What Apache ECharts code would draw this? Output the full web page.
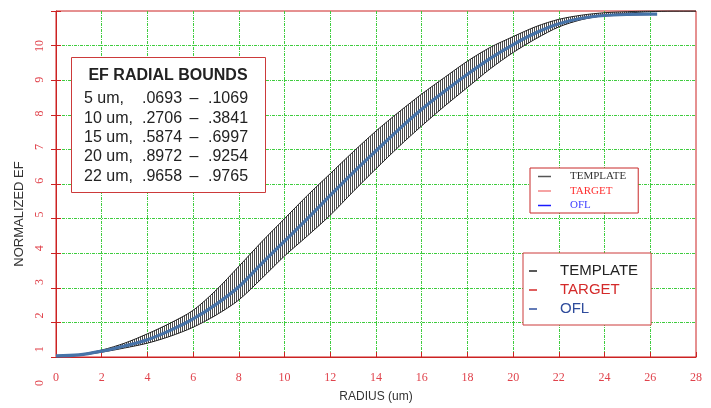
<!DOCTYPE html>
<html>
<head>
<meta charset="utf-8">
<script src="https://cdn.jsdelivr.net/npm/echarts@6/dist/echarts.min.js"></script>
<style>html,body{margin:0;padding:0;background:#fff}#c{width:711px;height:408px}</style>
</head>
<body>
<div id="c"></div>
<script>
// ---- data ----
const templateRadius = [0,1,2,3,4,5,6,7,8,9,10,11,12,13,14,15,16,17,18,19,20,21,22,23,24,25,26,27,28];
const templateUpper  = [0.02,0.07,0.2,0.4,0.67,0.98,1.35,1.93,2.62,3.33,4.0,4.67,5.3,5.93,6.53,7.08,7.6,8.08,8.55,8.95,9.26,9.55,9.76,9.88,9.95,9.98,10,10,10];
const templateLower  = [0,0.05,0.14,0.26,0.4,0.6,0.86,1.21,1.65,2.27,2.92,3.5,4.1,4.78,5.44,6.08,6.68,7.25,7.79,8.33,8.8,9.2,9.54,9.75,9.87,9.94,9.98,10,10];
const oflRadius      = [0,1,2,3,4,5,6,7,8,9,10,11,12,13,14,15,16,17,18,19,20,21,22,23,24,25,26,26.3];
const oflValues      = [0.03,0.06,0.17,0.32,0.5,0.77,1.1,1.52,2.03,2.7,3.35,4.0,4.67,5.33,5.96,6.58,7.16,7.68,8.17,8.63,9.03,9.37,9.63,9.79,9.87,9.9,9.91,9.91];
const targetRadius   = [0,1,2,3,4,5,6,7,8,9,10,11,12,13,14,15,16,17,18,19,20,21,22,23,24,25,26];
const targetValues   = [0.03,0.06,0.17,0.32,0.5,0.77,1.1,1.52,2.03,2.7,3.35,4.0,4.67,5.33,5.96,6.58,7.16,7.68,8.17,8.63,9.03,9.37,9.63,9.79,9.87,9.9,9.91];
const yTickLabels    = ['0','1','2','3','4','5','6','7','8','9','10'];
const seriesNames    = ['TEMPLATE','TARGET','OFL'];
const boxTitle       = 'EF RADIAL BOUNDS';
const boundRadii     = ['5 um,','10 um,','15 um,','20 um,','22 um,'];
const boundLow       = ['.0693','.2706','.5874','.8972','.9658'];
const boundHigh      = ['.1069','.3841','.6997','.9254','.9765'];

// ---- helpers ----
const zip = (xs, ys) => xs.map((x, i) => [x, ys[i]]);

const hatch = document.createElement('canvas');
hatch.width = 2; hatch.height = 4;
const hc = hatch.getContext('2d');
hc.fillStyle = '#ffffff'; hc.fillRect(0, 0, 2, 4);
hc.fillStyle = '#4a4a4a'; hc.fillRect(0, 0, 1, 4);

const RED = '#cc2222';
const RED_LABEL = '#e0434c';
const GREEN = '#3fcc3f';
const GRID_DASH = [3,1,1,1];
const SANS = '"Liberation Sans", Arial, sans-serif';
const SERIF = '"Liberation Serif", "Times New Roman", serif';

const chart = echarts.init(document.getElementById('c'));

const rowY = [99, 119, 138, 157, 177];
const boxGraphics = [
  {type:'rect', z:100, shape:{x:71.5, y:57.5, width:194, height:135}, style:{fill:'#fff', stroke:'#cc3a3a', lineWidth:1}},
  {type:'text', z:101, x:168, y:76, style:{text:boxTitle, fill:'#222', font:'bold 16px ' + SANS, align:'center', verticalAlign:'middle', textAlign:'center', textVerticalAlign:'middle'}}
];
boundRadii.forEach((r, i) => {
  boxGraphics.push({type:'text', z:101, x:84, y:rowY[i], style:{text:r, fill:'#222', font:'16px ' + SANS, align:'left', verticalAlign:'middle', textAlign:'left', textVerticalAlign:'middle'}});
  boxGraphics.push({type:'text', z:101, x:142, y:rowY[i], style:{text:boundLow[i], fill:'#222', font:'16px ' + SANS, align:'left', verticalAlign:'middle', textAlign:'left', textVerticalAlign:'middle'}});
  boxGraphics.push({type:'text', z:101, x:194, y:rowY[i], style:{text:'\u2013', fill:'#222', font:'16px ' + SANS, align:'center', verticalAlign:'middle', textAlign:'center', textVerticalAlign:'middle'}});
  boxGraphics.push({type:'text', z:101, x:208, y:rowY[i], style:{text:boundHigh[i], fill:'#222', font:'16px ' + SANS, align:'left', verticalAlign:'middle', textAlign:'left', textVerticalAlign:'middle'}});
});

const legend1Icon = ['#555555', '#f38585', '#1a1aff'];
const legend1Text = ['#333333', '#ff3030', '#4040ff'];
const legend2Icon = ['#222222', '#d42a2a', '#2f4f9f'];
const legend2Text = ['#222222', '#d42a2a', '#2f4c9c'];

chart.setOption({
  animation: false,
  backgroundColor: '#fff',
  grid: [
    {left:56, right:15, top:11, bottom:48, show:true, borderColor:RED, borderWidth:1, backgroundColor:'transparent'},
    {left:56, right:15, top:46, height:337}
  ],
  xAxis: [
    {
      type:'value', gridIndex:0, min:0, max:28, interval:2,
      name:'RADIUS (um)', nameLocation:'middle', nameGap:34,
      nameTextStyle:{color:'#333', fontFamily:SANS, fontSize:12},
      axisLine:{show:true, onZero:false, lineStyle:{color:RED, width:1}},
      axisTick:{show:true, inside:true, length:5, lineStyle:{color:RED}},
      axisLabel:{color:RED_LABEL, fontFamily:SERIF, fontSize:12, margin:15},
      splitLine:{show:true, showMinLine:false, showMaxLine:false, lineStyle:{color:GREEN, type:GRID_DASH, width:1}}
    },
    {type:'value', gridIndex:1, min:0, max:1, show:false}
  ],
  yAxis: [
    {
      type:'value', gridIndex:0, min:0, max:10, interval:1, position:'left',
      name:'NORMALIZED EF', nameLocation:'middle', nameGap:30, nameRotate:90,
      nameTextStyle:{color:'#333', fontFamily:SANS, fontSize:13, padding:[0,60,0,0]},
      axisLine:{show:true, onZero:false, lineStyle:{color:RED, width:1}},
      axisTick:{show:true, inside:true, length:5, lineStyle:{color:RED}},
      axisLabel:{show:false},
      splitLine:{show:true, showMinLine:false, showMaxLine:false, lineStyle:{color:GREEN, type:GRID_DASH, width:1}}
    },
    {
      type:'value', gridIndex:0, min:0, max:10, interval:1, position:'left', offset:0,
      axisLine:{show:false}, axisTick:{show:true, inside:false, length:5, lineStyle:{color:RED}},
      axisLabel:{show:false}, splitLine:{show:false}
    },
    {
      type:'value', gridIndex:1, min:0, max:10, interval:1, position:'left',
      axisLine:{show:false}, axisTick:{show:false}, splitLine:{show:false},
      axisLabel:{show:true, rotate:90, margin:10, color:RED_LABEL, fontFamily:SERIF, fontSize:12,
        formatter: v => yTickLabels[Math.round(v)]}
    }
  ],
  legend: [
    {
      left:530, top:168, orient:'vertical', itemWidth:13, itemHeight:1.5, itemGap:1.5,
      padding:[2,12,1,8], borderColor:'#c82828', borderWidth:1, backgroundColor:'#fff',
      icon:'rect', selectedMode:false,
      textStyle:{fontFamily:SERIF, fontSize:11, lineHeight:13, padding:[0,0,0,14]},
      data: seriesNames.map((n, i) => ({name:n, itemStyle:{color:legend1Icon[i]}, textStyle:{color:legend1Text[i]}}))
    },
    {
      left:523, top:253, orient:'vertical', itemWidth:8, itemHeight:1.5, itemGap:1,
      padding:[9,13,7,6], borderColor:'#cc3a3a', borderWidth:1, backgroundColor:'#fff',
      icon:'rect', selectedMode:false,
      textStyle:{fontFamily:SANS, fontSize:15, lineHeight:18, padding:[0,0,0,18]},
      data: seriesNames.map((n, i) => ({name:n, itemStyle:{color:legend2Icon[i]}, textStyle:{color:legend2Text[i]}}))
    }
  ],
  graphic: boxGraphics,
  series: [
    {
      name:'TEMPLATE', type:'custom', xAxisIndex:0, yAxisIndex:0, data:[[0, 0]], z:1,
      itemStyle:{color:'#333'},
      renderItem: (params, api) => {
        const pts = [];
        templateRadius.forEach((r, i) => pts.push(api.coord([r, templateUpper[i]])));
        for (let i = templateRadius.length - 1; i >= 0; i--) pts.push(api.coord([templateRadius[i], templateLower[i]]));
        return {type:'polygon', shape:{points:pts, smooth:0.3}, style:{fill:{image:hatch, repeat:'repeat'}, stroke:null}, silent:true};
      }
    },
    {
      name:'TEMPLATE', type:'line', xAxisIndex:0, yAxisIndex:0,
      data: zip(templateRadius, templateLower), symbol:'none', smooth:0.3,
      lineStyle:{color:'#222', width:1}, itemStyle:{color:'#333'}, z:2
    },
    {
      name:'TEMPLATE', type:'line', xAxisIndex:0, yAxisIndex:0,
      data: zip(templateRadius, templateUpper), symbol:'none', smooth:0.3,
      lineStyle:{color:'#222', width:1}, itemStyle:{color:'#333'}, z:2
    },
    {
      name:'TARGET', type:'line', xAxisIndex:0, yAxisIndex:0,
      data: zip(targetRadius, targetValues), symbol:'none', smooth:0.3,
      lineStyle:{color:'#e02020', width:2}, itemStyle:{color:'#e02020'}, z:3
    },
    {
      name:'OFL', type:'line', xAxisIndex:0, yAxisIndex:0,
      data: zip(oflRadius, oflValues), symbol:'none', smooth:0.3,
      lineStyle:{color:'#4673a8', width:3.2}, itemStyle:{color:'#4673a8'}, z:4
    }
  ]
});
</script>
</body>
</html>
